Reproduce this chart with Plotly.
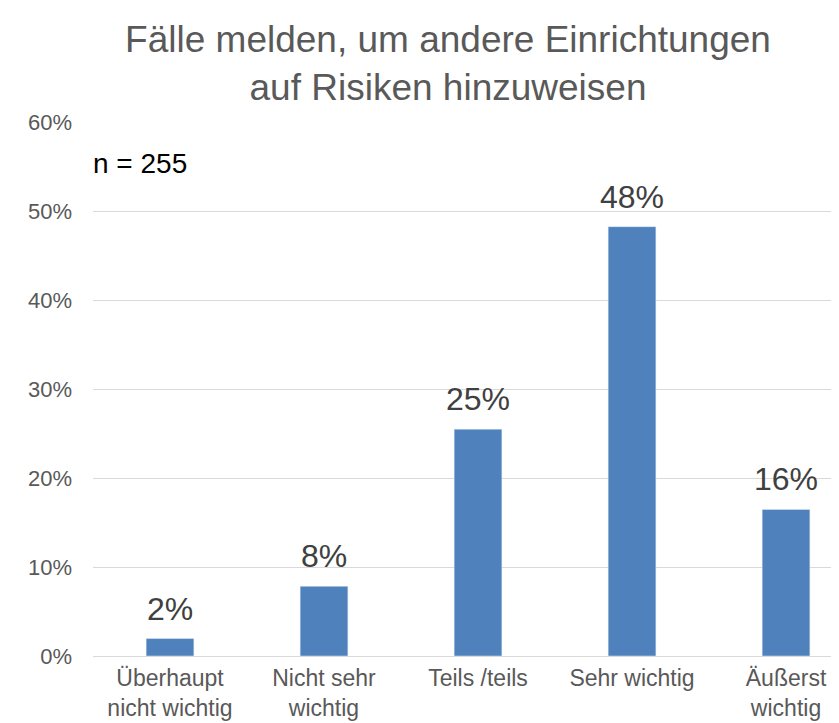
import plotly.graph_objects as go

categories = ["Überhaupt<br>nicht wichtig", "Nicht sehr<br>wichtig", "Teils /teils", "Sehr wichtig", "Äußerst<br>wichtig"]
values = [1.96, 7.84, 25.49, 48.24, 16.47]
labels = ["2%", "8%", "25%", "48%", "16%"]
y_ticks = [0, 10, 20, 30, 40, 50, 60]
y_ticklabels = ["0%", "10%", "20%", "30%", "40%", "50%", "60%"]
title_text = "Fälle melden, um andere Einrichtungen<br>auf Risiken hinzuweisen"
n_text = "n = 255"

FONT = "Liberation Sans, Arial, sans-serif"
W, H = 839, 723
OFF = 8  # page body margin

fig = go.Figure()
fig.add_trace(go.Bar(x=list(range(len(categories))), y=values, marker_color="#4F81BD",
                     width=0.31, hoverinfo="skip"))

for i, (v, t) in enumerate(zip(values, labels)):
    fig.add_annotation(x=i, y=v, text=t, showarrow=False, yanchor="bottom", yshift=10,
                       font=dict(family=FONT, size=32, color="#404040"))

fig.add_annotation(xref="paper", yref="paper", x=-0.003, y=0.923, xanchor="left", yanchor="middle",
                   text=n_text, showarrow=False, font=dict(family=FONT, size=28, color="#000000"))

fig.update_layout(
    width=W, height=H,
    margin=dict(l=93 - OFF, r=OFF, t=122 - OFF, b=H - (656 - OFF)),
    paper_bgcolor="white", plot_bgcolor="white",
    showlegend=False,
    title=dict(text=title_text, x=(448 - OFF) / W, xanchor="center", xref="container",
               y=1 - (52 - OFF) / H, yanchor="middle", yref="container",
               font=dict(family=FONT, size=37, color="#595959")),
    xaxis=dict(tickmode="array", tickvals=list(range(len(categories))), ticktext=categories,
               range=[-0.5, 4.344], showgrid=False, zeroline=False, showline=False,
               tickfont=dict(family=FONT, size=23, color="#595959"), ticks="",
               ticklabelstandoff=6),
    yaxis=dict(tickmode="array", tickvals=y_ticks, ticktext=y_ticklabels, range=[0, 60],
               showgrid=True, gridcolor="#d9d9d9", gridwidth=1, zeroline=True,
               zerolinecolor="#d9d9d9", zerolinewidth=1, showline=False,
               tickfont=dict(family=FONT, size=22, color="#595959"), ticks="",
               ticklabelstandoff=20),
)

fig.write_html("out.html")
